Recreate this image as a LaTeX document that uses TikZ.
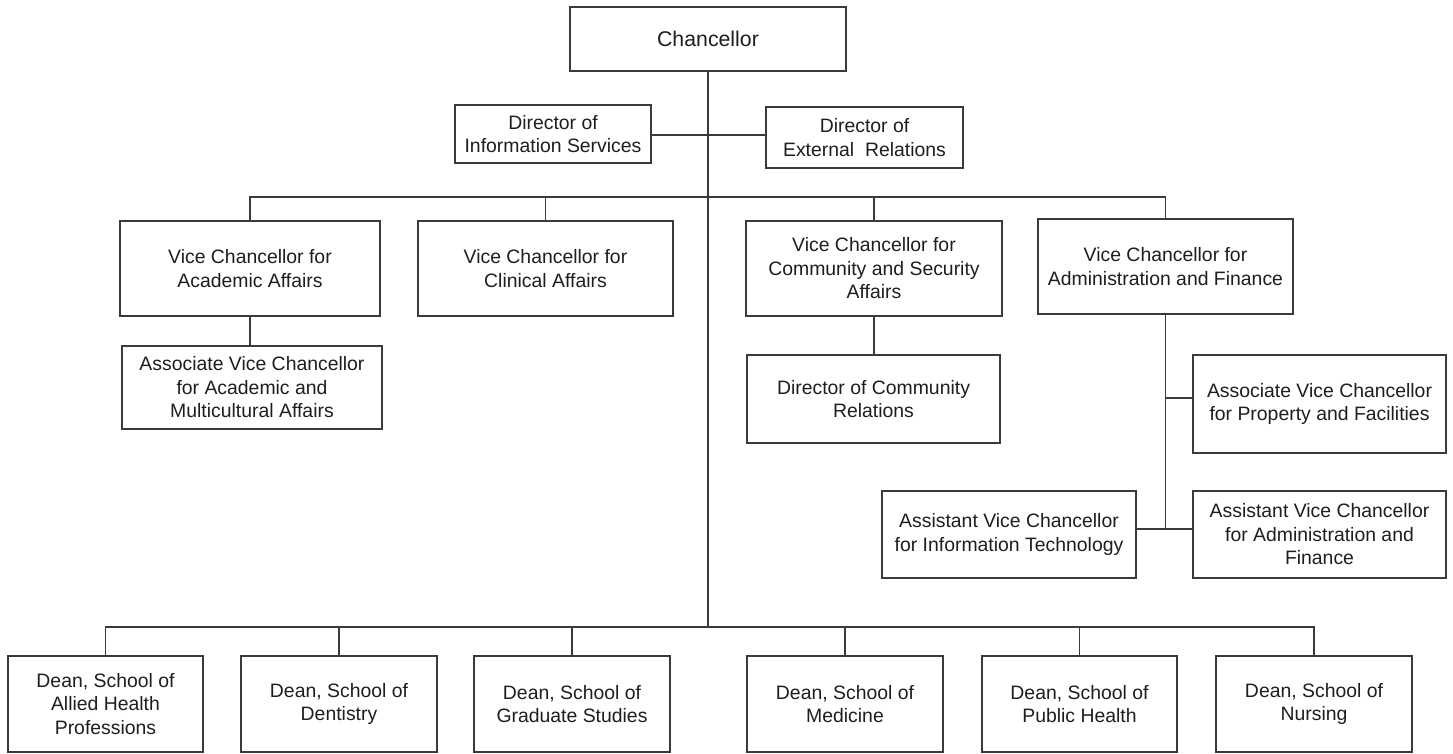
\documentclass[tikz,border=0pt]{standalone}
\usepackage{fontspec}
\setmainfont{Liberation Sans}
\definecolor{linec}{HTML}{3A3A3A}
\definecolor{textc}{HTML}{1E1E1E}
\begin{document}
\begin{tikzpicture}[x=1pt,y=-1pt,
  box/.style={draw=linec, line width=1.6pt, fill=white, rectangle, inner sep=0pt,
    align=center, text=textc, font=\fontsize{19.4}{23.5}\selectfont},
  conn/.style={draw=linec, line width=1.6pt}]
\useasboundingbox (0,0) rectangle (1453,754);
% nodes
\node[box, minimum width=276, minimum height=64, font=\fontsize{21.3}{25}\selectfont] (chan) at (708,39) {Chancellor};
\node[box, minimum width=196, minimum height=58] (dinfo) at (553,134) {Director of\\Information Services};
\node[box, minimum width=197, minimum height=61] (dext) at (864.5,137.5) {Director of\\External\ \ Relations};
\node[box, minimum width=260, minimum height=95] (vca) at (250,268.5) {Vice Chancellor for\\Academic Affairs};
\node[box, minimum width=255, minimum height=95] (vcc) at (545.5,268.5) {Vice Chancellor for\\Clinical Affairs};
\node[box, minimum width=256, minimum height=95] (vccs) at (874,268.5) {Vice Chancellor for\\Community and Security\\Affairs};
\node[box, minimum width=255, minimum height=95] (vcaf) at (1165.5,266.5) {Vice Chancellor for\\Administration and Finance};
\node[box, minimum width=260, minimum height=83] (avca) at (252,387.5) {Associate Vice Chancellor\\for Academic and\\Multicultural Affairs};
\node[box, minimum width=253, minimum height=88] (dcr) at (873.5,399) {Director of Community\\Relations};
\node[box, minimum width=253, minimum height=98] (avcp) at (1319.5,404) {Associate Vice Chancellor\\for Property and Facilities};
\node[box, minimum width=254, minimum height=87] (asit) at (1009,534.5) {Assistant Vice Chancellor\\for Information Technology};
\node[box, minimum width=253, minimum height=87] (asaf) at (1319.5,534.5) {Assistant Vice Chancellor\\for Administration and\\Finance};
\node[box, minimum width=195, minimum height=96] (d1) at (105.5,704) {Dean, School of\\Allied Health\\Professions};
\node[box, minimum width=196, minimum height=96] (d2) at (339,704) {Dean, School of\\Dentistry};
\node[box, minimum width=196, minimum height=96] (d3) at (572,704) {Dean, School of\\Graduate Studies};
\node[box, minimum width=196, minimum height=96] (d4) at (845,704) {Dean, School of\\Medicine};
\node[box, minimum width=195, minimum height=96] (d5) at (1079.5,704) {Dean, School of\\Public Health};
\node[box, minimum width=196, minimum height=96] (d6) at (1314,704) {Dean, School of\\Nursing};
% junction coordinates
\coordinate (bus1) at (708,197);
\coordinate (bus2) at (708,627);
\coordinate (jdir) at (708,135);
\coordinate (jp) at (1165.5,398);
\coordinate (ja) at (1165.5,529);
% connectors
\begin{scope}[on background layer/.style={}]
\draw[conn] (chan.south) -- (bus2);
\draw[conn] (dinfo.east |- jdir) -- (dext.west |- jdir);
\draw[conn] (vca.north) -- (vca.north |- bus1) -- (vcaf.north |- bus1) -- (vcaf.north);
\draw[conn] (vcc.north) -- (vcc.north |- bus1);
\draw[conn] (vccs.north) -- (vccs.north |- bus1);
\draw[conn] (vca.south) -- (vca.south |- avca.north);
\draw[conn] (vccs.south) -- (vccs.south |- dcr.north);
\draw[conn] (vcaf.south) -- (ja);
\draw[conn] (jp) -- (avcp.west |- jp);
\draw[conn] (asit.east |- ja) -- (asaf.west |- ja);
\draw[conn] (d1.north) -- (d1.north |- bus2) -- (d6.north |- bus2) -- (d6.north);
\draw[conn] (d2.north) -- (d2.north |- bus2);
\draw[conn] (d3.north) -- (d3.north |- bus2);
\draw[conn] (d4.north) -- (d4.north |- bus2);
\draw[conn] (d5.north) -- (d5.north |- bus2);
\end{scope}
\end{tikzpicture}
\end{document}
